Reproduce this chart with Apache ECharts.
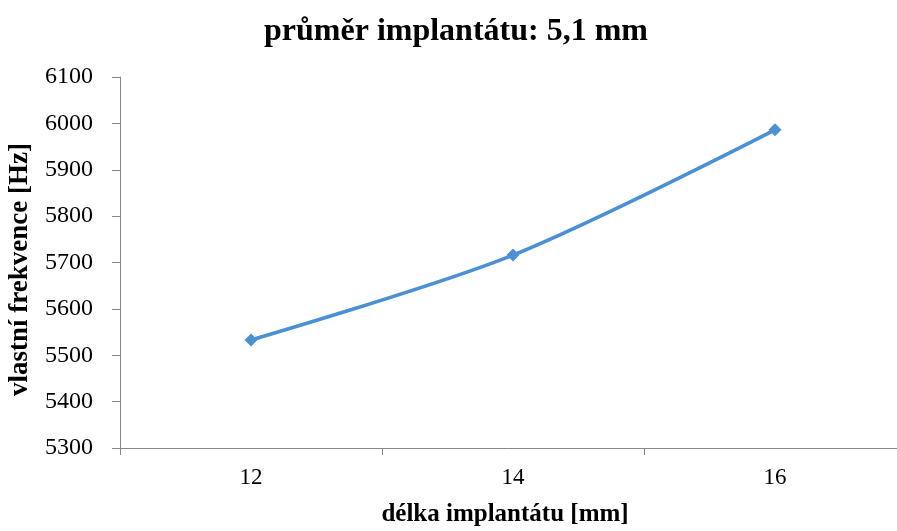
<!DOCTYPE html>
<html><head><meta charset="utf-8">
<script src="https://cdn.jsdelivr.net/npm/echarts@6/dist/echarts.min.js"></script>
<style>html,body{margin:0;padding:0;background:#fff}#c{width:897px;height:531px}</style>
</head><body><div id="c"></div>
<script>
const categories = ['12', '14', '16'];
const values = [5533, 5716, 5986];
const yMin = 5300, yMax = 6100, yStep = 100;
const titleText = 'průměr implantátu: 5,1 mm';
const xName = 'délka implantátu [mm]';
const yName = 'vlastní frekvence [Hz]';
const font = '"Liberation Serif", "Times New Roman", serif';
const chart = echarts.init(document.getElementById('c'));
chart.setOption({
  animation: false,
  backgroundColor: '#fff',
  title: { text: titleText, left: 451, textAlign: 'center', top: 11,
    textStyle: { fontFamily: font, fontSize: 32, fontWeight: 'bold', color: '#000' } },
  grid: { left: 120, right: -9, top: 77, bottom: 83, containLabel: false, outerBoundsMode: 'none' },
  xAxis: {
    type: 'category', data: categories, boundaryGap: true,
    name: xName, nameLocation: 'middle', nameGap: 54,
    nameTextStyle: { fontFamily: font, fontSize: 25, fontWeight: 'bold', color: '#000',
      padding: [0, 16, 0, 0] },
    axisLine: { lineStyle: { color: '#888', width: 1 } },
    axisTick: { show: true, length: 7, lineStyle: { color: '#888' } },
    axisLabel: { fontFamily: font, fontSize: 23, color: '#000', margin: 18 },
    splitLine: { show: false }
  },
  yAxis: {
    type: 'value', min: yMin, max: yMax, interval: yStep,
    name: yName, nameLocation: 'middle', nameGap: 86,
    nameTextStyle: { fontFamily: font, fontSize: 27, fontWeight: 'bold', color: '#000',
      padding: [0, 14, 0, 0] },
    axisLine: { show: true, lineStyle: { color: '#888', width: 1 } },
    axisTick: { show: true, length: 8, lineStyle: { color: '#888' } },
    axisLabel: { fontFamily: font, fontSize: 24, color: '#000', margin: 27,
      formatter: v => String(v) },
    splitLine: { show: false }
  },
  series: [{
    type: 'line', data: values, smooth: 0.3,
    symbol: 'diamond', symbolSize: 13,
    lineStyle: { color: '#4A90D2', width: 3.5 },
    itemStyle: { color: '#4A90D2' }
  }]
});
</script></body></html>
